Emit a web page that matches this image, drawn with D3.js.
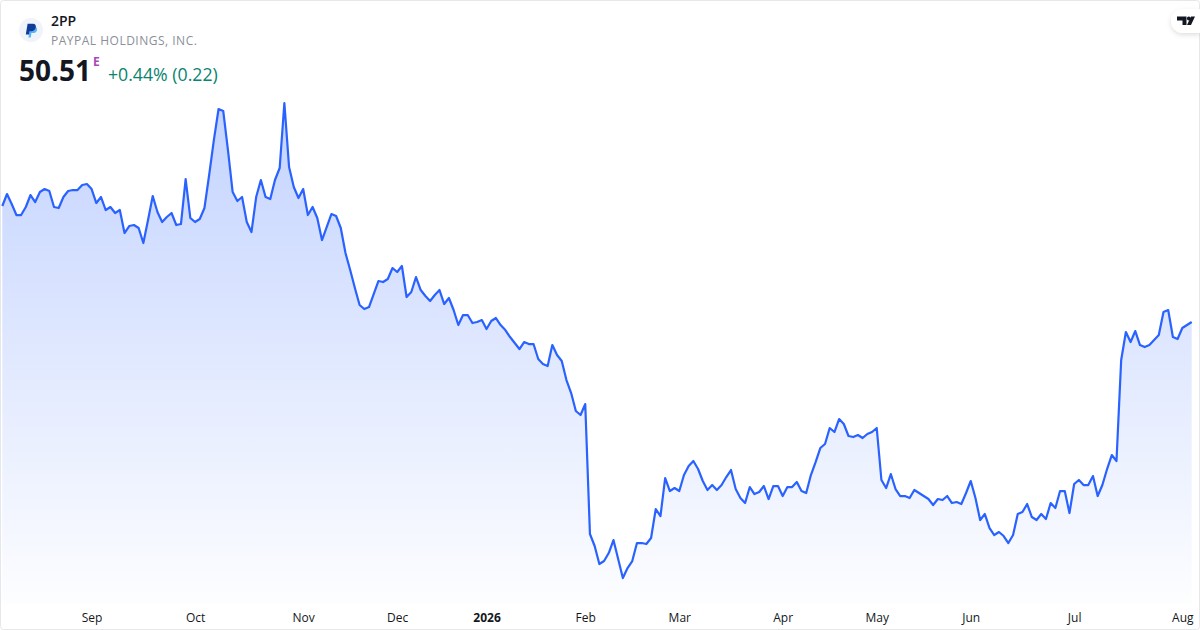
<!DOCTYPE html>
<html lang="en">
<head>
<meta charset="UTF-8">
<title>2PP</title>
<style>
  html, body { margin: 0; padding: 0; background: #fff; overflow: hidden; }
  text { font-family: "Open Sans", "Noto Sans", sans-serif; }
</style>
</head>
<body>
<script src="https://d3js.org/d3.v7.min.js"></script>
<script>
// daily closes
const closes = [
  59.79,60.75,59.95,59.07,59.07,59.71,60.67,60.11,60.91,61.15,
  60.99,59.71,59.63,60.51,60.99,61.07,61.07,61.47,61.55,61.15,
  60.03,60.51,59.47,59.71,59.23,59.47,57.63,58.19,58.27,58.03,
  56.83,58.67,60.59,59.31,58.51,58.91,59.23,58.27,58.35,61.95,
  58.83,58.51,58.75,59.63,62.27,65.07,67.55,67.39,64.27,60.91,
  60.19,60.51,58.51,57.71,60.51,61.87,60.51,60.35,61.87,62.83,
  68.03,62.91,61.31,60.43,61.15,59.07,59.71,58.83,57.07,58.11,
  59.15,58.99,58.03,56.03,54.67,53.23,51.87,51.55,51.71,52.75,
  53.79,53.71,53.95,54.83,54.51,54.99,52.51,52.91,54.11,53.07,
  52.59,52.19,52.67,53.07,51.95,52.43,51.47,50.27,51.07,51.07,
  50.43,50.51,50.67,49.95,50.59,50.83,50.27,49.87,49.31,48.83,
  48.35,48.91,48.75,48.75,47.55,47.15,46.99,48.67,47.87,47.39,
  45.87,44.83,43.39,43.07,43.95,33.55,32.59,31.15,31.39,32.03,
  33.07,31.55,30.03,30.83,31.39,32.83,32.83,32.75,33.23,35.55,
  34.99,38.03,36.99,37.23,36.99,38.27,38.99,39.39,38.75,37.79,
  37.07,37.47,37.07,37.47,38.11,38.67,37.15,36.43,36.03,37.31,
  36.75,36.91,37.39,36.35,37.39,37.39,36.59,37.31,37.31,37.71,
  36.99,36.83,38.27,39.31,40.43,40.75,42.03,41.71,42.75,42.35,
  41.39,41.31,41.47,41.23,41.55,41.71,42.03,37.87,37.23,38.35,
  37.15,36.59,36.59,36.43,37.07,36.83,36.59,36.35,35.87,36.35,
  36.27,36.59,36.03,36.11,35.95,36.83,37.79,36.43,34.67,35.15,
  34.03,33.47,33.71,33.39,32.83,33.47,35.15,35.31,35.95,34.91,
  34.67,35.15,34.75,36.03,35.63,36.99,36.99,35.23,37.55,37.87,
  37.47,37.47,38.19,36.59,37.47,38.75,39.87,39.39,47.47,49.71,
  48.91,49.79,48.67,48.51,48.67,49.07,49.47,51.31,51.47,49.31,
  49.15,50.03,50.27,50.51
];
// first trading day of each month (index into closes)
const tickIndex = [19, 41, 64, 84, 103, 124, 144, 166, 186, 206, 228, 251];
const tickLabels = ["Sep","Oct","Nov","Dec","2026","Feb","Mar","Apr","May","Jun","Jul","Aug"];

const width = 1200, height = 630;

const x = d3.scaleLinear().domain([0, closes.length - 1]).range([2.3, 1191.7]);
const y = d3.scaleLinear().domain([30, 70]).range([578.4, 78.4]);

const svg = d3.select("body").append("svg")
  .attr("width", width)
  .attr("height", height)
  .style("display", "block");

const defs = svg.append("defs");

const grad = defs.append("linearGradient")
  .attr("id", "fill")
  .attr("gradientUnits", "userSpaceOnUse")
  .attr("x1", 0).attr("x2", 0)
  .attr("y1", 100).attr("y2", 604);
grad.append("stop").attr("offset", 0).attr("stop-color", "#2962ff").attr("stop-opacity", 0.28);
grad.append("stop").attr("offset", 1).attr("stop-color", "#2962ff").attr("stop-opacity", 0.01);

const shadow = defs.append("filter").attr("id", "btnShadow")
  .attr("x", "-40%").attr("y", "-40%").attr("width", "180%").attr("height", "200%");
shadow.append("feDropShadow")
  .attr("dx", 0).attr("dy", 2).attr("stdDeviation", 2.5)
  .attr("flood-color", "#000").attr("flood-opacity", 0.13);

// area + line
const area = d3.area()
  .x((d, i) => x(i))
  .y0(604)
  .y1(d => y(d));
const line = d3.line()
  .x((d, i) => x(i))
  .y(d => y(d));

svg.append("path").datum(closes)
  .attr("d", area)
  .attr("fill", "url(#fill)");

svg.append("path").datum(closes)
  .attr("d", line)
  .attr("fill", "none")
  .attr("stroke", "#2962ff")
  .attr("stroke-width", 2.2)
  .attr("stroke-linejoin", "round");

// month axis
const xAxis = d3.axisBottom(x)
  .tickValues(tickIndex)
  .tickSize(0)
  .tickPadding(0)
  .tickFormat((d, i) => tickLabels[i]);

const axisG = svg.append("g")
  .attr("transform", "translate(0,613)")
  .call(xAxis);
axisG.select(".domain").remove();
axisG.selectAll("text")
  .style("font-family", '"Open Sans", "Noto Sans", sans-serif')
  .style("font-size", "12px")
  .attr("fill", "#131722")
  .style("font-weight", (d, i) => tickLabels[i] === "2026" ? 700 : 400);

// card border
svg.append("rect")
  .attr("x", 0.5).attr("y", 0.5)
  .attr("width", width - 1).attr("height", height - 1)
  .attr("rx", 3)
  .attr("fill", "none")
  .attr("stroke", "#e6e7ea");

// header
const logo = svg.append("g").attr("transform", "translate(19,18)");
logo.append("circle").attr("cx", 12).attr("cy", 12).attr("r", 12).attr("fill", "#f0f3fa");
logo.append("path")
  .attr("d", "M9.6 18.5 L11 9 H15.6 C17.8 9 18.4 10.6 18 12.2 C17.5 14.2 15.8 15 14 15 H12.4 L11.8 19.5 H9.4 Z")
  .attr("fill", "#3fa9f5").attr("opacity", 0.85);
logo.append("path")
  .attr("d", "M6.8 16.6 L8.6 5.8 H14 C16.4 5.8 17.2 7.6 16.8 9.6 C16.3 12 14.4 13.2 12.4 13.2 H10.6 L10 16.6 Z")
  .attr("fill", "#0f3c9a");

svg.append("text").attr("x", 51).attr("y", 26)
  .attr("font-size", 14).attr("font-weight", 600).attr("fill", "#131722")
  .text("2PP");
svg.append("text").attr("x", 51).attr("y", 45)
  .attr("font-size", 12).attr("letter-spacing", 0.5).attr("fill", "#8c8f98")
  .text("PAYPAL HOLDINGS, INC.");
svg.append("text").attr("x", 19).attr("y", 81)
  .attr("font-size", 28).attr("font-weight", 700).attr("fill", "#131722")
  .text("50.51");
svg.append("text").attr("x", 93).attr("y", 66)
  .attr("font-size", 12).attr("font-weight", 700).attr("fill", "#ab47bc")
  .text("E");
svg.append("text").attr("x", 108).attr("y", 81)
  .attr("font-size", 17.7).attr("fill", "#08846f")
  .text("+0.44% (0.22)");

// tradingview button
const tv = svg.append("g");
tv.append("path")
  .attr("d", "M1200 9 H1183 A12 12 0 0 0 1183 33 H1200 Z")
  .attr("fill", "#fff")
  .attr("filter", "url(#btnShadow)");
tv.append("path")
  .attr("d", "M1177 16.5 H1186.5 V25 H1182.5 V20.5 H1177 Z M1191 16.5 H1195 L1191 25 H1187 Z")
  .attr("fill", "#131722");
tv.append("circle").attr("cx", 1188.8).attr("cy", 18.5).attr("r", 1.9).attr("fill", "#131722");
</script>
</body>
</html>
